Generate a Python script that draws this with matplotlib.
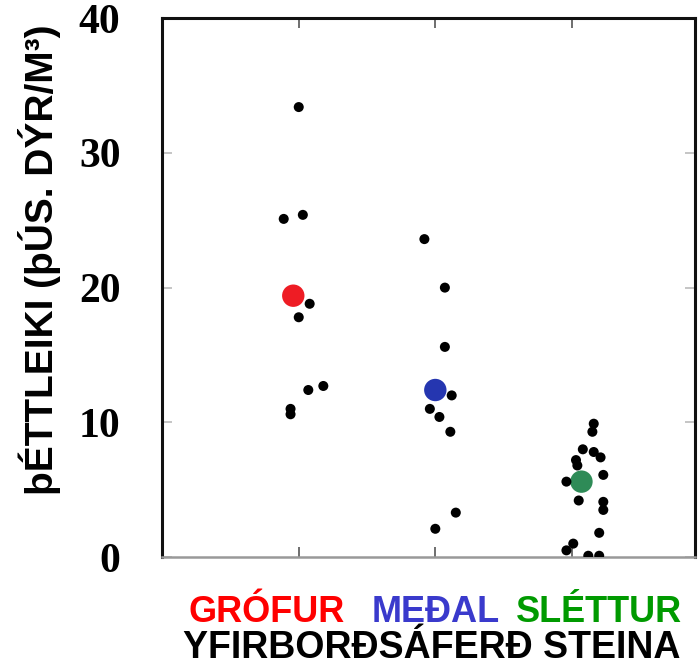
import matplotlib.pyplot as plt

# categories and colours
categories = ['GRÓFUR', 'MEÐAL', 'SLÉTTUR']
cat_colors = ['#ff0000', '#3a3acc', '#009a00']
mean_colors = ['#ee1c24', '#2536b0', '#2e8b57']
cat_pos = [1, 2, 3]

# individual samples (thous. animals / m3)
grofur_y = [33.4, 25.1, 25.4, 18.8, 17.8, 12.4, 12.7, 11.0, 10.6]
grofur_dx = [0.0, -0.11, 0.03, 0.08, 0.0, 0.07, 0.18, -0.06, -0.06]
medal_y = [23.6, 20.0, 15.6, 12.0, 11.0, 10.4, 9.3, 3.3, 2.1]
medal_dx = [-0.08, 0.07, 0.07, 0.12, -0.04, 0.03, 0.11, 0.15, 0.0]
slettur_y = [9.9, 9.3, 8.0, 7.8, 7.4, 7.2, 6.8, 6.1, 5.6, 4.2, 4.1, 3.5,
             1.8, 1.0, 0.5, 0.1, 0.1]
slettur_dx = [0.16, 0.15, 0.08, 0.16, 0.21, 0.03, 0.04, 0.23, -0.04, 0.05,
              0.23, 0.23, 0.20, 0.01, -0.04, 0.12, 0.20]

# group means shown as coloured dots
means = [19.4, 12.4, 5.6]
means_dx = [-0.04, 0.0, 0.07]

yticks = [0, 10, 20, 30, 40]
ylabel = 'þÉTTLEIKI (þÚS. DÝR/M³)'
xlabel = 'YFIRBORÐSÁFERÐ STEINA'

fig = plt.figure(figsize=(6.99, 6.72), dpi=100)
ax = fig.add_axes([0.232, 0.171, 0.762, 0.802])

samples = [(grofur_y, grofur_dx), (medal_y, medal_dx), (slettur_y, slettur_dx)]
for i, (m, mdx) in enumerate(zip(means, means_dx)):
    ax.scatter(cat_pos[i] + mdx, m, s=260, color=mean_colors[i], zorder=2,
               edgecolors='none')
for i, (ys, dxs) in enumerate(samples):
    xs = [cat_pos[i] + d for d in dxs]
    ax.scatter(xs, ys, s=52, color='black', zorder=3, edgecolors='none')

ax.set_xlim(0, 3.9)
ax.set_ylim(0, 40)
ax.set_yticks(yticks)
ax.set_yticklabels([str(t) for t in yticks], fontfamily='Liberation Serif',
                   fontweight='bold', fontsize=30)
ax.set_xticks(cat_pos)
ax.set_xticklabels([])
ax.tick_params(axis='both', direction='in', length=7, width=1.2,
               top=True, right=True, pad=30)
ax.tick_params(axis='y', colors='#bbbbbb', labelcolor='black')
ax.tick_params(axis='x', colors='#555555')

for side in ['left', 'top', 'right']:
    ax.spines[side].set_linewidth(2.2)
    ax.spines[side].set_color('#111111')
ax.spines['bottom'].set_linewidth(1.8)
ax.spines['bottom'].set_color('#999999')

# category labels, slightly spread out as in the original
offsets = [-32, 0, 27]
for i, name in enumerate(categories):
    ax.annotate(name, xy=(cat_pos[i], 0), xycoords=('data', 'axes fraction'),
                xytext=(offsets[i], -55), textcoords='offset pixels',
                ha='center', va='center', color=cat_colors[i],
                fontfamily='Liberation Sans', fontweight='bold', fontsize=26)

fig.text(0.618, 0.036, xlabel, ha='center', va='center',
         fontfamily='Liberation Sans', fontweight='bold', fontsize=27)
fig.text(0.056, 0.613, ylabel, ha='center', va='center', rotation=90,
         fontfamily='Liberation Sans', fontweight='bold', fontsize=28)

fig.savefig('out.png', dpi=100)
